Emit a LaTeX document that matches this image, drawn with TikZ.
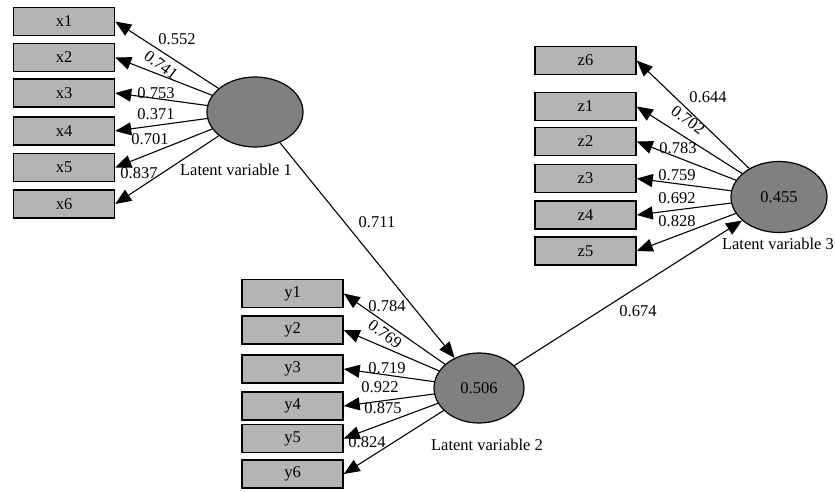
\documentclass[tikz,border=0pt]{standalone}
\usepackage{fontspec}
\setmainfont{Liberation Serif}
\usepackage{tikz}
\usetikzlibrary{arrows.meta}
\usetikzlibrary{shapes}
\definecolor{BoxGray}{RGB}{180,180,180}
\definecolor{LatentGray}{RGB}{128,128,128}
\tikzset{
	indicator/.style={draw, line width=1.5pt, fill=BoxGray, minimum width=101pt, minimum height=28pt, inner sep=0pt},
	latent/.style={draw, line width=1.2pt, fill=LatentGray, ellipse, inner sep=0pt},
	loading/.style={line width=1.1pt, -{Triangle[length=16pt,width=13pt]}},
	coef/.style={inner sep=0pt},
	slopedcoef/.style={inner sep=0pt, rotate=-37},
}
\newcommand{\latentLabel}[1]{Latent variable #1}

\begin{document}
\begin{tikzpicture}[x=1pt, y=-1pt, font=\fontsize{16.5}{19}\selectfont]
	\useasboundingbox (0,0) rectangle (835,492);
	
		\node [latent, minimum width=96pt, minimum height=70pt] (lv1) at (255,112) {}; %lv1
		\node [latent, minimum width=90pt, minimum height=70pt] (lv2) at (479,388) {0.506}; %lv2
		\node [latent, minimum width=96pt, minimum height=71pt] (lv3) at (779,197) {0.455}; %lv3
		
		\node [coef] (n1) at (236,170) {\latentLabel{1}};
		\node [coef] (n2) at (487,445) {\latentLabel{2}};
		\node [coef, anchor=east] (n3) at (834,244) {\latentLabel{3}};
		
		\node [indicator] (x1) at (64,21.5) {x1};
		\node [indicator] (x2) at (64,57.5) {x2};
		\node [indicator] (x3) at (64,93) {x3};
		\node [indicator] (x4) at (64,131) {x4};
		\node [indicator] (x5) at (64,167.5) {x5};
		\node [indicator] (x6) at (64,204) {x6};
		
		\node [indicator] (y1) at (292.5,293.5) {y1};
		\node [indicator] (y2) at (292.5,330) {y2};
		\node [indicator] (y3) at (292.5,369) {y3};
		\node [indicator] (y4) at (292.5,406) {y4};
		\node [indicator] (y5) at (292.5,438.5) {y5};
		\node [indicator] (y6) at (292.5,474) {y6};
		
		\node [indicator] (z6) at (585.5,60.5) {z6};
		\node [indicator] (z1) at (585.5,106.5) {z1};
		\node [indicator] (z2) at (585.5,141.5) {z2};
		\node [indicator] (z3) at (585.5,178.5) {z3};
		\node [indicator] (z4) at (585.5,215) {z4};
		\node [indicator] (z5) at (585.5,251) {z5};
		
		\draw [loading] (lv1) -- (x1.east);
		\draw [loading] (lv1) -- (x2.east);
		\draw [loading] (lv1) -- (x3.east);
		\draw [loading] (lv1) -- (x4.east);
		\draw [loading] (lv1) -- (x5.east);
		\draw [loading] (lv1) -- (x6.east);
		
		\draw [loading] (lv2) -- (y1.east);
		\draw [loading] (lv2) -- (y2.east);
		\draw [loading] (lv2) -- (y3.east);
		\draw [loading] (lv2) -- (y4.east);
		\draw [loading] (lv2) -- (y5.east);
		\draw [loading] (lv2) -- (y6.east);
		
		\draw [loading] (lv3) -- (z6.east);
		\draw [loading] (lv3) -- (z1.east);
		\draw [loading] (lv3) -- (z2.east);
		\draw [loading] (lv3) -- (z3.east);
		\draw [loading] (lv3) -- (z4.east);
		\draw [loading] (lv3) -- (z5.east);
		
		\draw [loading] (lv1) -- (lv2);
		\draw [loading] (lv2) -- (lv3);
		
		% loadings
		\node [coef] (cx1) at (177,39) {0.552};
		\node [slopedcoef] (cx2) at (161,65) {0.741};
		\node [coef] (cx3) at (156,93) {0.753};
		\node [coef] (cx4) at (156,114) {0.371};
		\node [coef] (cx5) at (150,139) {0.701};
		\node [coef] (cx6) at (139,173) {0.837};
		
		\node [coef] (cy1) at (387,306) {0.784};
		\node [slopedcoef] (cy2) at (385,334) {0.769};
		\node [coef] (cy3) at (387,368) {0.719};
		\node [coef] (cy4) at (380,387) {0.922};
		\node [coef] (cy5) at (383,408) {0.875};
		\node [coef] (cy6) at (367,442) {0.824};
		
		\node [coef] (cz6) at (708,97) {0.644};
		\node [slopedcoef] (cz1) at (688,120) {0.702};
		\node [coef] (cz2) at (678,148) {0.783};
		\node [coef] (cz3) at (677,175) {0.759};
		\node [coef] (cz4) at (677,198) {0.692};
		\node [coef] (cz5) at (677,221) {0.828};
		
		% paths
		\node [coef] (c12) at (377,222) {0.711};
		\node [coef] (c23) at (638,311) {0.674};
	\end{tikzpicture}
\end{document}
